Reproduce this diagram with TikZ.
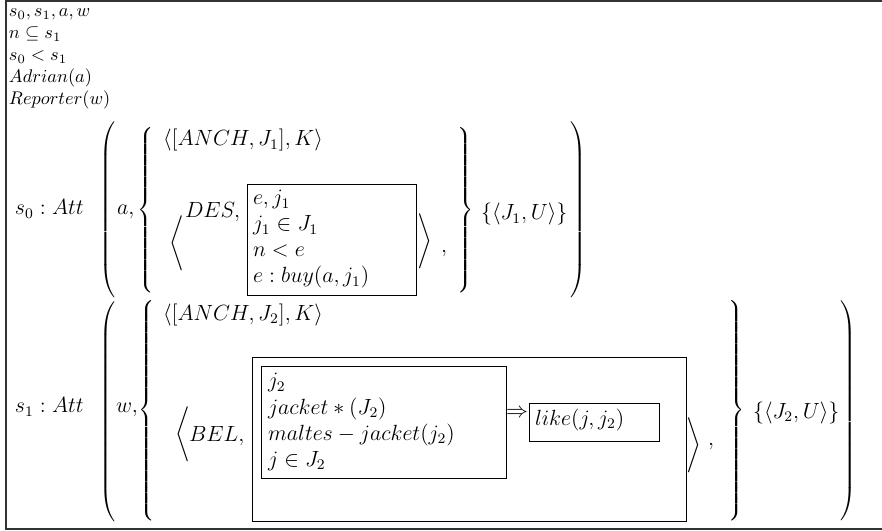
\documentclass[tikz,border=0pt]{standalone}
\usetikzlibrary{fit}
% extensible delimiters of an exact total height, centred on the math axis
\delimiterfactor=1000
\delimitershortfall=0pt
\nulldelimiterspace=0pt
\newcommand{\tallldelim}[2]{$\left#1\vcenter{\hrule height #2 width 0pt}\right.$}
\newcommand{\tallrdelim}[2]{$\left.\vcenter{\hrule height #2 width 0pt}\right#1$}
\tikzset{
  txt/.style={anchor=base west, inner sep=0pt, outer sep=0pt},
  big/.style={txt, font=\large},
  dlm/.style={inner sep=0pt, outer sep=0pt},
  drsbox/.style={draw, line width=0.5pt, inner sep=0pt, outer sep=0pt},
}
\begin{document}
\begin{tikzpicture}[x=0.5454pt,y=-0.5454pt]
\useasboundingbox (0,0) rectangle (882,531);
\clip (0,0) rectangle (882,531);
% outer DRS frame (its right side lies beyond the page)
\draw[line width=0.9pt, draw=black!80] (6,1) rectangle (900,529);

% universe and top-level conditions
\node[txt] (u1) at (9,17)  {$s_0, s_1, a, w$};
\node[txt] (u2) at (9,39)  {$n \subseteq s_1$};
\node[txt] (u3) at (9,61)  {$s_0 < s_1$};
\node[txt] (u4) at (9,83)  {$Adrian(a)$};
\node[txt] (u5) at (9,105) {$Reporter(w)$};

% ---- attitude of Adrian ----
\node[big] (att0) at (15,215) {$s_0 : Att$};
\node[dlm] (p0l) at (108,210) {\tallldelim({92pt}};
\node[big] (ag0) at (117,215) {$a,$};
\node[dlm] (b0l) at (146,210.5) {\tallldelim\{{90pt}};
\node[big] (anch0) at (163,146) {$\langle[ANCH, J_1], K\rangle$};
\node[dlm] (a0l) at (176.5,243) {$\Bigg\langle$};
\node[big] (des) at (185,218) {$DES,$};
\node[drsbox, fit={(247,184) (416,295)}] (k1) {};
\node[big] (k1a) at (253,205) {$e, j_1$};
\node[big] (k1b) at (253,231) {$j_1 \in J_1$};
\node[big] (k1c) at (253,257) {$n < e$};
\node[big] (k1d) at (253,283) {$e : buy(a, j_1)$};
\node[dlm] (a0r) at (425,241) {$\Bigg\rangle$};
\node[big] (c0) at (441,253) {$,$};
\node[dlm] (b0r) at (466,210.5) {\tallrdelim\}{90pt}};
\node[big] (set0) at (481,220) {$\{\langle J_1, U\rangle\}$};
\node[dlm] (p0r) at (579,210) {\tallrdelim){92pt}};

% ---- attitude of the reporter ----
\node[big] (att1) at (15,413) {$s_1 : Att$};
\node[dlm] (p1l) at (108,411.5) {\tallldelim({118pt}};
\node[big] (ag1) at (116,413) {$w,$};
\node[dlm] (b1l) at (147,410.5) {\tallldelim\{{117pt}};
\node[big] (anch1) at (163,320) {$\langle[ANCH, J_2], K\rangle$};
\node[dlm] (a1l) at (183,434) {$\Bigg\langle$};
\node[big] (bel) at (189,441) {$BEL,$};
\node[drsbox, fit={(252,357) (686,521)}] (k2) {};
\node[drsbox, fit={(261,366) (506,478)}] (k3) {};
\node[big] (k3a) at (268,388) {$j_2$};
\node[big] (k3b) at (268,414) {$jacket*(J_2)$};
\node[big] (k3c) at (268,440) {$maltes - jacket(j_2)$};
\node[big] (k3d) at (268,466) {$j \in J_2$};
\node[inner sep=0pt, font=\large] (imp) at (517,413) {$\Rightarrow$};
\node[drsbox, fit={(529,403) (659,441)}] (k4) {};
\node[big] (like) at (535,425) {$like(j, j_2)$};
\node[dlm] (a1r) at (693.5,445) {$\Bigg\rangle$};
\node[big] (c1) at (708,445) {$,$};
\node[dlm] (b1r) at (737,410.5) {\tallrdelim\}{117pt}};
\node[big] (set1) at (753,418) {$\{\langle J_2, U\rangle\}$};
\node[dlm] (p1r) at (849,411) {\tallrdelim){118pt}};
\end{tikzpicture}
\end{document}
